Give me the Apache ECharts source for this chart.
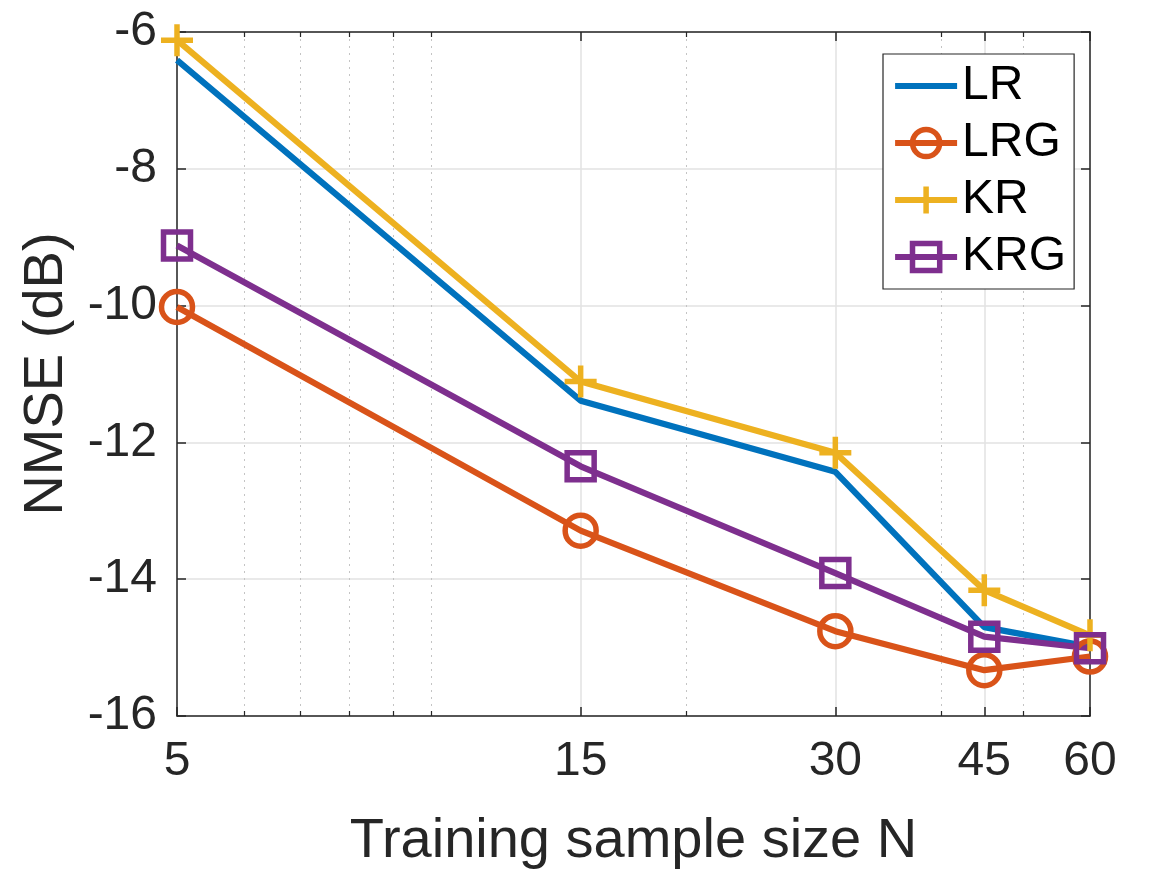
<!DOCTYPE html>
<html>
<head>
<meta charset="utf-8">
<script src="https://cdn.jsdelivr.net/npm/echarts@6/dist/echarts.min.js"></script>
<style>
html,body{margin:0;padding:0;background:#fff;}
#chart{width:1149px;height:880px;}
</style>
</head>
<body>
<div id="chart"></div>
<script>
const sampleSizes = [5, 15, 30, 45, 60];
const lrValues  = [-6.41, -11.39, -12.43, -14.70, -14.99];
const lrgValues = [-10.02, -13.29, -14.76, -15.33, -15.13];
const krValues  = [-6.12, -11.11, -12.15, -14.16, -14.82];
const krgValues = [-9.12, -12.35, -13.91, -14.84, -15.01];
const xMajorTicks = [5, 15, 30, 45, 60];
const xMinorTicks = [6, 7, 8, 9, 10, 20, 40, 50];
const seriesNames = ['LR', 'LRG', 'KR', 'KRG'];

const FONT = '"Liberation Sans", Arial, Helvetica, sans-serif';
const AX = '#262626';
const colors = ['#0072BD', '#D95319', '#EDB120', '#7E2F8E'];
const plusPath = 'path://M0,-10 L0,10 M-10,0 L10,0';
const LW = 6.2;

function pairs(vals) { return sampleSizes.map((n, i) => [n, vals[i]]); }

const chart = echarts.init(document.getElementById('chart'), null, {renderer: 'canvas'});

function mkSeries(name, vals, color, symbol, size, showSym) {
  return {
    name: name,
    type: 'line',
    xAxisIndex: 0, yAxisIndex: 0,
    data: pairs(vals),
    clip: false,
    symbol: symbol,
    symbolSize: size,
    showSymbol: showSym,
    lineStyle: {color: color, width: LW},
    itemStyle: {color: 'rgba(0,0,0,0)', borderColor: color, borderWidth: 5.5},
    emphasis: {disabled: true},
    animation: false,
    z: 3
  };
}

const option = {
  backgroundColor: '#fff',
  animation: false,
  grid: {left: 177, right: 59, top: 32, bottom: 164, containLabel: false},
  legend: {
    show: true,
    orient: 'vertical',
    left: 883, top: 54,
    padding: [8, 8, 8, 9],
    itemGap: 9,
    itemWidth: 62,
    itemHeight: 34,
    itemTextGap: 9,
    backgroundColor: '#fff',
    borderColor: AX,
    borderWidth: 1.2,
    textStyle: {fontSize: 48, color: '#000', fontFamily: FONT},
    lineStyle: {width: LW},
    itemStyle: {borderWidth: 5.5},
    data: [
      {name: 'LR', itemStyle: {borderWidth: 0, color: 'rgba(0,0,0,0)', borderColor: 'rgba(0,0,0,0)'}},
      {name: 'LRG'},
      {name: 'KR'},
      {name: 'KRG'}
    ]
  },
  xAxis: [
    {
      type: 'log', logBase: 10, min: 5, max: 60, position: 'bottom',
      name: 'Training sample size N', nameLocation: 'middle', nameGap: 98,
      nameTextStyle: {fontSize: 56, color: AX, fontFamily: FONT},
      axisLine: {show: true, lineStyle: {color: AX, width: 1.5}},
      axisTick: {show: true, inside: true, length: 9, customValues: xMajorTicks, lineStyle: {color: AX, width: 1.5}},
      axisLabel: {show: true, customValues: xMajorTicks, fontSize: 48, color: AX, fontFamily: FONT, margin: 22},
      splitLine: {show: true, lineStyle: {color: '#e2e2e2', width: 1.5}},
      minorTick: {show: false}, minorSplitLine: {show: false}
    },
    {
      type: 'log', logBase: 10, min: 5, max: 60, position: 'top',
      axisLine: {show: true, lineStyle: {color: AX, width: 1.5}},
      axisTick: {show: true, inside: true, length: 9, customValues: xMajorTicks, lineStyle: {color: AX, width: 1.5}},
      axisLabel: {show: false}, splitLine: {show: false}
    },
    {
      type: 'log', logBase: 10, min: 5, max: 60, position: 'bottom',
      axisLine: {show: false},
      axisTick: {show: true, inside: true, length: 5, customValues: xMinorTicks, lineStyle: {color: AX, width: 1.2}},
      axisLabel: {show: false},
      splitLine: {show: true, lineStyle: {color: '#c4c4c4', width: 1, type: [2, 5]}}
    },
    {
      type: 'log', logBase: 10, min: 5, max: 60, position: 'top',
      axisLine: {show: false},
      axisTick: {show: true, inside: true, length: 5, customValues: xMinorTicks, lineStyle: {color: AX, width: 1.2}},
      axisLabel: {show: false}, splitLine: {show: false}
    }
  ],
  yAxis: [
    {
      type: 'value', min: -16, max: -6, interval: 2, position: 'left',
      name: 'NMSE (dB)', nameLocation: 'middle', nameGap: 102, nameRotate: 90,
      nameTextStyle: {fontSize: 56, color: AX, fontFamily: FONT},
      axisLine: {show: true, lineStyle: {color: AX, width: 1.5}},
      axisTick: {show: true, inside: true, length: 9, lineStyle: {color: AX, width: 1.5}},
      axisLabel: {show: true, fontSize: 48, color: AX, fontFamily: FONT, margin: 20},
      splitLine: {show: true, lineStyle: {color: '#e2e2e2', width: 1.5}}
    },
    {
      type: 'value', min: -16, max: -6, interval: 2, position: 'right',
      axisLine: {show: true, lineStyle: {color: AX, width: 1.5}},
      axisTick: {show: true, inside: true, length: 9, lineStyle: {color: AX, width: 1.5}},
      axisLabel: {show: false}, splitLine: {show: false}
    }
  ],
  series: [
    mkSeries('LR', lrValues, colors[0], 'circle', 2, false),
    mkSeries('LRG', lrgValues, colors[1], 'circle', 31, true),
    mkSeries('KR', krValues, colors[2], plusPath, 32, true),
    mkSeries('KRG', krgValues, colors[3], 'rect', 27, true)
  ]
};
chart.setOption(option);
</script>
</body>
</html>
